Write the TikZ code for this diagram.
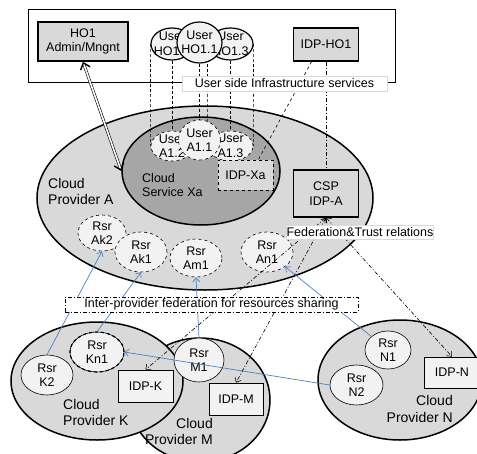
\documentclass[tikz,border=0pt]{standalone}
\usepackage{fontspec}
\setmainfont{Liberation Sans}
\usetikzlibrary{shapes.geometric,arrows.meta}
\definecolor{provgray}{HTML}{D9D9D9}
\definecolor{svcgray}{HTML}{A6A6A6}
\definecolor{usergray}{HTML}{F2F2F2}
\definecolor{rsrblue}{HTML}{4F81BD}
\newcommand{\bigfont}{\fontsize{14}{16.5}\selectfont}
\pgfdeclarelayer{bottom}
\pgfdeclarelayer{back}
\pgfsetlayers{bottom,back,main}
\begin{document}
\begin{tikzpicture}[x=1pt,y=-1pt,>={Straight Barb[length=4pt,width=7pt]},
	font=\fontsize{12.5}{14.5}\selectfont,
	prov/.style={ellipse,draw,line width=1.5pt,fill=provgray},
	ell/.style={ellipse,draw,fill=usergray,line width=0.6pt,inner sep=0pt,label={[align=center]center:#1}},
	rsr/.style={ell=#1,dashed},
	box/.style={draw,fill=provgray,inner sep=0pt,align=center},
	idpbox/.style={box,fill=usergray,line width=0.7pt},
	tag/.style={fill=white,draw=black!15,inner sep=0pt},
	txt/.style={inner sep=0pt,font=\bigfont},
	proj/.style={dash pattern=on 3pt off 2pt,line width=0.6pt},
	dashdot/.style={dash pattern=on 4pt off 2pt on 1pt off 2pt,line width=0.6pt},
	trust/.style={dashdot,<->},
	fed/.style={->,draw=rsrblue,line width=0.7pt}]
	\useasboundingbox (0,0) rectangle (477,453);
	\clip (0,0) rectangle (477,453);
	% user side
	\draw[line width=0.7pt] (28,9) rectangle (395,82);
	\node[box,line width=1.6pt,minimum width=90pt,minimum height=39pt] (admin) at (83,41.5) {HO1\\Admin/Mngnt};
	\node[box,line width=1.2pt,minimum width=65pt,minimum height=33pt] (idpho) at (326,44.5) {IDP-HO1};
	\node[ell={User\\HO1.2},line width=1.2pt,minimum width=42pt,minimum height=32pt] (hoL) at (172,44) {};
	\node[ell={User\\HO1.3},line width=1.2pt,minimum width=45pt,minimum height=32pt] (hoR) at (230.5,44) {};
	\node[ell={User\\HO1.1},line width=1.2pt,minimum width=45pt,minimum height=41pt] (hoC) at (199.5,42.5) {};
	% cloud provider A
	\begin{pgfonlayer}{bottom}
	\node[prov,minimum width=336pt,minimum height=184pt] (provA) at (205,198) {};
	\node[prov,fill=svcgray,minimum width=158pt,minimum height=108pt] (xa) at (201,171) {};
	\end{pgfonlayer}
	\node[txt,anchor=west,align=left] (provAtxt) at (48,191.5) {Cloud\\Provider A};
	\node[inner sep=0pt,anchor=west,align=left] (xatxt) at (142,185) {Cloud\\Service Xa};
	\node[rsr={User\\A1.2},minimum width=42pt,minimum height=30pt] (aL) at (172,146) {};
	\node[rsr={User\\A1.3},minimum width=45pt,minimum height=30pt] (aR) at (230.5,146) {};
	\node[rsr={User\\A1.1},minimum width=42pt,minimum height=40pt] (aC) at (199.5,140) {};
	\begin{pgfonlayer}{back}
	\draw[proj] (hoL.west) -- (aL.west);
	\draw[proj] (hoL.south) -- (aL.north);
	\draw[proj] (hoC.south) -- (aC.north);
	\draw[proj] (hoR.west) -- (aR.west);
	\draw[proj] (hoR.south) -- (aR.north);
	\draw[proj] (hoR.east) -- (aR.east);
	\end{pgfonlayer}
	\node[box,dashed,line width=0.6pt,minimum width=55pt,minimum height=30pt] (idpxa) at (245.5,175) {IDP-Xa};
	\node[box,line width=1.2pt,minimum width=65pt,minimum height=47pt] (csp) at (326,193.5) {CSP\\IDP-A};
	\draw[dashed,line width=0.6pt] (idpho.230) -- (idpxa.50);
	\draw[dashdot] (idpho.south) -- (csp.north);
	\draw[{Straight Barb[length=6pt,width=10pt,line width=1.4pt]}-{Straight Barb[length=6pt,width=10pt,line width=1.4pt]},double,double distance=1.6pt,line width=0.6pt] (admin.south) -- (xa.west);
	\node[rsr={Rsr\\Ak2},minimum width=48pt,minimum height=36pt] (ak2) at (102,233) {};
	\node[rsr={Rsr\\Ak1},minimum width=52pt,minimum height=40pt] (ak1) at (141,252) {};
	\node[rsr={Rsr\\Am1},minimum width=52pt,minimum height=38pt] (am1) at (196,258) {};
	\node[rsr={Rsr\\An1},minimum width=52pt,minimum height=40pt] (an1) at (267,252) {};
	% other providers
	\node[prov,minimum width=140pt,minimum height=124pt] (provM) at (200,400) {};
	\node[prov,minimum width=172pt,minimum height=118pt] (provK) at (97,381) {};
	\node[prov,minimum width=164pt,minimum height=120pt] (provN) at (400,380) {};
	\node[ell={Rsr\\K2},minimum width=52pt,minimum height=40pt] (k2) at (47,375) {};
	\node[ell={Rsr\\Kn1},minimum width=54pt,minimum height=40pt,postaction={draw,dashed,line width=1.2pt}] (kn1) at (97,352) {};
	\node[idpbox,minimum width=55pt,minimum height=32pt] (idpk) at (145.5,386) {IDP-K};
	\node[txt,anchor=west,align=left] (provKtxt) at (63,412.5) {Cloud\\Provider K};
	\node[ell={Rsr\\M1},minimum width=50pt,minimum height=44pt] (m1) at (199,360) {};
	\node[idpbox,minimum width=54pt,minimum height=32pt] (idpm) at (236,399) {IDP-M};
	\node[txt,anchor=east,align=right] (provMtxt) at (213,431.5) {Cloud\\Provider M};
	\node[ell={Rsr\\N1},minimum width=46pt,minimum height=38pt] (n1) at (388,350) {};
	\node[ell={Rsr\\N2},minimum width=53pt,minimum height=40pt] (n2) at (356.5,385) {};
	\node[idpbox,minimum width=56pt,minimum height=31pt] (idpn) at (452,372.5) {IDP-N};
	\node[txt,anchor=east,align=right] (provNtxt) at (453,409) {Cloud\\Provider N};
	% relations
	\draw[fed] (k2.north) -- (ak2.south);
	\draw[fed] (kn1.north) -- (ak1.south);
	\draw[fed] (m1.north) -- (am1.south);
	\draw[fed] (n1) -- (an1);
	\draw[fed] (n2.west) -- (kn1.east);
	\draw[trust] (csp.south) -- (idpk.north);
	\draw[trust] (csp.south) -- (idpm.north);
	\draw[trust] (csp.south) -- (idpn.north);
	\node[tag,minimum width=205pt,minimum height=15pt] (usertag) at (284.5,83.5) {User side Infrastructure services};
	\node[tag,minimum width=144pt,minimum height=14pt] (trusttag) at (360,232.5) {Federation\&Trust relations};
	\node[tag,draw=black,dashdot,minimum width=293pt,minimum height=15pt] (fedtag) at (211.5,304.5) {Inter-provider federation for resources sharing};
\end{tikzpicture}
\end{document}
